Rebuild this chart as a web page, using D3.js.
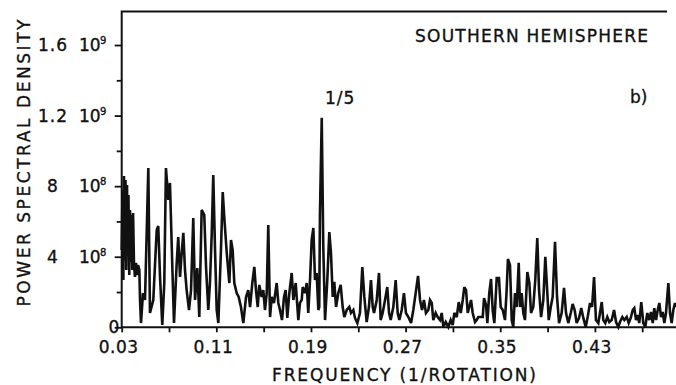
<!DOCTYPE html>
<html>
<head>
<meta charset="utf-8">
<script src="https://cdn.jsdelivr.net/npm/d3@7"></script>
<style>
  html, body { margin: 0; padding: 0; background: #fff; }
  svg { display: block; }
  text { font-family: "DejaVu Sans", sans-serif; fill: #111; stroke: #111; stroke-width: 0.35px; }
</style>
</head>
<body>
<svg id="chart" width="676" height="385"></svg>
<script>
// Power spectrum, southern hemisphere (power in units of 10^8)
const frequency = [
  0.0300,0.0307,0.0314,0.0319,0.0326,0.0332,0.0339,0.0345,0.0352,0.0357,
  0.0364,0.0370,0.0377,0.0383,0.0390,0.0396,0.0404,0.0412,0.0421,0.0429,
  0.0438,0.0449,0.0455,0.0463,0.0480,0.0497,0.0525,0.0539,0.0567,0.0596,
  0.0609,0.0624,0.0643,0.0660,0.0674,0.0694,0.0708,0.0728,0.0742,0.0765,
  0.0778,0.0793,0.0807,0.0821,0.0835,0.0849,0.0869,0.0886,0.0905,0.0920,
  0.0939,0.0956,0.0976,0.0998,0.1013,0.1032,0.1046,0.1061,0.1074,0.1089,
  0.1103,0.1117,0.1139,0.1154,0.1167,0.1188,0.1210,0.1224,0.1238,0.1252,
  0.1272,0.1289,0.1308,0.1328,0.1351,0.1370,0.1385,0.1404,0.1421,0.1435,
  0.1450,0.1463,0.1483,0.1497,0.1511,0.1526,0.1539,0.1554,0.1568,0.1587,
  0.1610,0.1624,0.1638,0.1655,0.1672,0.1686,0.1700,0.1717,0.1737,0.1751,
  0.1771,0.1793,0.1807,0.1822,0.1830,0.1850,0.1864,0.1877,0.1892,0.1906,
  0.1920,0.1934,0.1948,0.1962,0.1970,0.1976,0.1991,0.2004,0.2019,0.2038,
  0.2055,0.2069,0.2084,0.2097,0.2112,0.2131,0.2151,0.2168,0.2182,0.2202,
  0.2224,0.2238,0.2258,0.2272,0.2292,0.2314,0.2334,0.2351,0.2371,0.2390,
  0.2407,0.2422,0.2433,0.2456,0.2475,0.2489,0.2506,0.2526,0.2545,0.2560,
  0.2574,0.2596,0.2616,0.2633,0.2647,0.2667,0.2686,0.2703,0.2723,0.2746,
  0.2765,0.2785,0.2805,0.2822,0.2839,0.2855,0.2872,0.2892,0.2906,0.2921,
  0.2934,0.2954,0.2971,0.2991,0.3005,0.3019,0.3039,0.3061,0.3081,0.3098,
  0.3112,0.3132,0.3149,0.3166,0.3183,0.3196,0.3211,0.3225,0.3238,0.3253,
  0.3267,0.3287,0.3301,0.3314,0.3329,0.3352,0.3363,0.3380,0.3391,0.3407,
  0.3422,0.3436,0.3450,0.3470,0.3489,0.3504,0.3521,0.3540,0.3554,0.3565,
  0.3582,0.3597,0.3610,0.3625,0.3639,0.3656,0.3667,0.3681,0.3695,0.3709,
  0.3729,0.3746,0.3760,0.3779,0.3796,0.3813,0.3828,0.3845,0.3864,0.3881,
  0.3898,0.3910,0.3927,0.3943,0.3963,0.3980,0.3997,0.4019,0.4039,0.4056,
  0.4075,0.4096,0.4112,0.4129,0.4146,0.4166,0.4185,0.4202,0.4222,0.4239,
  0.4259,0.4276,0.4293,0.4309,0.4329,0.4343,0.4358,0.4371,0.4388,0.4405,
  0.4422,0.4442,0.4462,0.4479,0.4498,0.4512,0.4532,0.4549,0.4569,0.4586,
  0.4603,0.4620,0.4633,0.4648,0.4662,0.4675,0.4692,0.4709,0.4726,0.4743,
  0.4760,0.4774,0.4789,0.4802,0.4817,0.4831,0.4845,0.4859,0.4873,0.4887,
  0.4901,0.4921,0.4935,0.4949,0.4963,0.4977,0.4986
];
const power = [
  4.38,7.78,2.68,8.58,3.82,8.35,3.25,8.07,4.10,7.50,
  2.96,6.65,3.70,6.37,3.25,6.48,3.53,2.85,3.65,2.96,
  3.53,3.25,1.55,0.24,1.94,1.55,9.03,0.81,1.55,5.52,
  5.74,2.85,0.13,2.51,9.03,7.22,8.18,3.42,0.24,3.65,
  5.12,2.85,4.21,5.35,3.25,2.11,0.98,2.11,6.20,1.55,
  3.36,0.58,6.65,6.37,3.42,0.98,2.51,5.29,8.63,4.38,
  0.98,0.24,4.38,7.67,6.25,4.21,2.51,4.95,4.38,2.51,
  1.94,1.72,1.15,0.24,1.72,2.11,1.15,2.51,3.42,2.11,
  1.15,2.40,1.72,2.11,0.98,1.94,5.80,0.58,1.72,1.38,
  2.51,1.38,0.98,0.41,1.72,2.11,0.53,1.94,3.08,1.55,
  2.51,0.41,1.38,1.55,2.28,1.94,2.51,0.81,2.68,4.95,
  5.63,2.68,3.08,0.98,1.15,6.48,11.87,4.55,0.41,2.68,
  5.40,4.21,1.72,2.57,1.15,1.94,2.40,1.15,0.58,0.98,
  1.15,0.81,0.98,0.53,0.24,0.81,3.42,1.72,0.30,1.15,
  2.68,1.15,0.81,1.55,3.08,0.41,0.81,1.55,2.28,0.81,
  0.41,1.15,2.68,0.81,0.41,0.98,1.94,0.81,0.58,0.24,
  0.98,1.94,2.91,1.55,0.98,1.55,0.81,0.98,1.55,1.38,
  0.41,0.81,0.58,0.41,0.81,0.02,0.30,0.02,0.41,0.13,
  0.81,0.58,1.43,0.81,1.55,2.28,2.11,0.81,1.15,1.55,
  0.81,0.30,0.41,0.58,0.58,0.58,1.66,1.26,0.24,1.94,
  2.74,0.98,0.24,2.79,2.79,1.15,0.98,0.41,2.11,3.87,
  3.53,0.41,0.02,1.94,1.15,3.65,1.15,1.94,0.81,0.41,
  3.13,2.51,0.81,1.15,2.68,5.06,2.11,0.58,1.55,3.99,
  1.94,0.41,1.15,1.72,4.84,1.72,0.24,0.81,2.23,0.81,
  0.24,0.81,1.32,0.98,0.24,0.53,1.09,0.53,0.02,0.58,
  1.38,1.15,2.85,0.41,0.24,0.81,1.43,0.41,0.24,0.58,
  0.30,0.41,0.98,0.30,0.02,0.30,0.58,0.41,0.58,0.24,
  0.53,0.98,1.09,0.41,0.70,0.24,1.43,0.24,0.02,0.81,
  0.41,0.87,0.24,1.09,0.41,0.98,1.38,0.58,0.87,0.24,
  0.81,2.51,0.81,0.24,0.98,1.38,1.15
];

// Axis ticks
const xMajorTicks = [0.03, 0.11, 0.19, 0.27, 0.35, 0.43];
const xMinorTicks = [0.07, 0.15, 0.23, 0.31, 0.39, 0.47];
const yMajorTicks = [0, 4, 8, 12, 16];
const yMinorTicks = [2, 6, 10, 14];
const yTickMantissa = ["0", "4", "8", "1.2", "1.6"];
const yTickExponent = ["", "8", "8", "9", "9"];

const svg = d3.select("#chart");

const x = d3.scaleLinear().domain([0.03, 0.50]).range([121.7, 677.7]);
const y = d3.scaleLinear().domain([0, 17.9]).range([327.3, 11.5]);

// Frame: left, top and bottom edges
svg.append("path")
  .attr("d", `M${x(0.50)},${y(0)}H${x(0.03)}V${y(17.9)}H667`)
  .attr("fill", "none").attr("stroke", "#111").attr("stroke-width", 2);

// Left axis ticks
svg.append("g").attr("transform", `translate(${x(0.03)},0)`)
  .call(d3.axisLeft(y).tickValues(yMajorTicks).tickSize(7).tickFormat(""))
  .call(g => g.select(".domain").remove())
  .call(g => g.selectAll("line").attr("stroke", "#111").attr("stroke-width", 1.8));
svg.append("g").attr("transform", `translate(${x(0.03)},0)`)
  .call(d3.axisLeft(y).tickValues(yMinorTicks).tickSize(5).tickFormat(""))
  .call(g => g.select(".domain").remove())
  .call(g => g.selectAll("line").attr("stroke", "#111").attr("stroke-width", 1.8));

// Bottom axis ticks
svg.append("g").attr("transform", `translate(0,${y(0)})`)
  .call(d3.axisBottom(x).tickValues(xMajorTicks.concat(xMinorTicks)).tickSize(5).tickFormat(""))
  .call(g => g.select(".domain").remove())
  .call(g => g.selectAll("line").attr("stroke", "#111").attr("stroke-width", 1.8));

// Y tick labels: mantissa and power of ten
yMajorTicks.forEach((v, i) => {
  const ty = y(v) + 6;
  if (yTickExponent[i] === "") {
    svg.append("text").attr("x", 114).attr("y", ty)
      .attr("text-anchor", "middle").attr("font-size", 17).text(yTickMantissa[i]);
    return;
  }
  svg.append("text").attr("x", 53).attr("y", ty)
    .attr("text-anchor", "middle").attr("font-size", 17)
    .attr("letter-spacing", 1).text(yTickMantissa[i]);
  svg.append("text").attr("x", 79).attr("y", ty)
    .attr("font-size", 17).text("10");
  svg.append("text").attr("x", 100).attr("y", ty - 7)
    .attr("font-size", 10).text(yTickExponent[i]);
});

// X tick labels
svg.selectAll("text.xtick").data(xMajorTicks).join("text")
  .attr("class", "xtick")
  .attr("x", d => x(d) - 3).attr("y", 353)
  .attr("text-anchor", "middle").attr("font-size", 17)
  .attr("letter-spacing", 0.5)
  .text(d => d.toFixed(2));

// Axis titles
svg.append("text").attr("x", 404).attr("y", 381)
  .attr("text-anchor", "middle").attr("font-size", 17)
  .attr("textLength", 264).attr("lengthAdjust", "spacing")
  .text("FREQUENCY (1/ROTATION)");
svg.append("text")
  .attr("transform", "translate(30,163) rotate(-90)")
  .attr("text-anchor", "middle").attr("font-size", 17)
  .attr("textLength", 287).attr("lengthAdjust", "spacing")
  .text("POWER SPECTRAL DENSITY");

// Spectrum trace
const line = d3.line()
  .x(i => x(frequency[i]))
  .y(i => y(power[i]));
svg.append("path")
  .attr("d", line(d3.range(frequency.length)))
  .attr("fill", "none").attr("stroke", "#111")
  .attr("stroke-width", 2.6).attr("stroke-linejoin", "miter")
  .attr("stroke-miterlimit", 3);

// Annotations
svg.append("text").attr("x", 415).attr("y", 42)
  .attr("font-size", 17).attr("textLength", 233).attr("lengthAdjust", "spacing")
  .text("SOUTHERN HEMISPHERE");
svg.append("text").attr("x", 630).attr("y", 103)
  .attr("font-size", 17).text("b)");
svg.append("text").attr("x", 325).attr("y", 104)
  .attr("font-size", 17).attr("letter-spacing", 1).text("1/5");
</script>
</body>
</html>
